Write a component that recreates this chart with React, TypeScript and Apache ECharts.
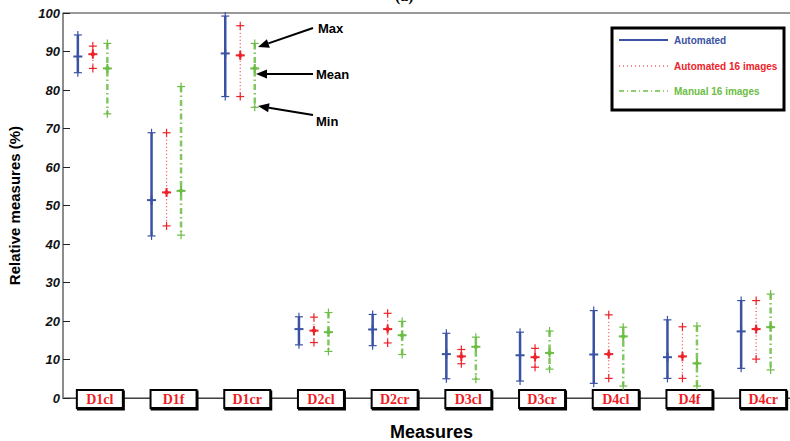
import React, { useEffect, useRef } from "react";
import * as echarts from "echarts";

const categories = ["D1cl", "D1f", "D1cr", "D2cl", "D2cr", "D3cl", "D3cr", "D4cl", "D4f", "D4cr"];
const yTicks = [0, 10, 20, 30, 40, 50, 60, 70, 80, 90, 100];

const autoMin = [84.5, 42.1, 78.3, 13.8, 13.6, 5.0, 4.4, 3.8, 5.1, 7.7];
const autoMean = [88.7, 51.4, 89.5, 17.9, 17.8, 11.4, 11.1, 11.3, 10.6, 17.3];
const autoMax = [94.3, 68.9, 99.2, 21.1, 21.7, 16.8, 17.1, 22.7, 20.3, 25.3];

const auto16Min = [85.6, 44.7, 78.3, 14.4, 14.3, 8.9, 8.0, 5.1, 5.1, 10.1];
const auto16Mean = [89.3, 53.4, 89.0, 17.5, 17.9, 10.8, 10.6, 11.4, 10.8, 17.9];
const auto16Max = [91.4, 68.9, 96.7, 21.0, 22.0, 12.6, 12.9, 21.6, 18.5, 25.3];

const manualMin = [73.8, 42.3, 75.5, 12.1, 11.3, 4.9, 7.5, 3.1, 3.1, 7.3];
const manualMean = [85.6, 53.8, 85.6, 17.1, 16.3, 13.3, 11.7, 16.0, 9.0, 18.4];
const manualMax = [92.1, 80.9, 92.1, 22.2, 19.9, 15.8, 17.4, 18.4, 18.7, 27.0];

const seriesNames = ["Automated", "Automated 16 images", "Manual 16 images"];
const colors = ["#3a52a4", "#ee2229", "#6cbd45"];

function rows(mins: number[], means: number[], maxs: number[]) {
  return categories.map((_, i) => [i, mins[i], means[i], maxs[i]]);
}

function makeRender(offset: number, color: string, lineWidth: number, dash: number[] | null, meanDot: boolean) {
  return (params: any, api: any) => {
    const i = api.value(0);
    const pMin = api.coord([i, api.value(1)]);
    const pMean = api.coord([i, api.value(2)]);
    const pMax = api.coord([i, api.value(3)]);
    const x = pMean[0] + offset;
    const plus = (y: number, s: number, w: number) => [
      { type: "line", shape: { x1: x - s, y1: y, x2: x + s, y2: y }, style: { stroke: color, lineWidth: w } },
      { type: "line", shape: { x1: x, y1: y - s, x2: x, y2: y + s }, style: { stroke: color, lineWidth: w } },
    ];
    const children: any[] = [
      {
        type: "line",
        shape: { x1: x, y1: pMax[1], x2: x, y2: pMin[1] },
        style: { stroke: color, lineWidth, lineDash: dash || undefined, opacity: dash ? 0.85 : 1 },
      },
      ...plus(pMax[1], 4, 1.2),
      ...plus(pMin[1], 4, 1.2),
      ...plus(pMean[1], 4.5, 2),
    ];
    if (meanDot) {
      children.push({ type: "circle", shape: { cx: x, cy: pMean[1], r: 2.2 }, style: { fill: color } });
    }
    return { type: "group", children };
  };
}

function arrow(x1: number, y1: number, x2: number, y2: number) {
  const dx = x2 - x1, dy = y2 - y1;
  const len = Math.sqrt(dx * dx + dy * dy);
  const ux = dx / len, uy = dy / len;
  const hl = 11, hw = 4.5;
  const bx = x2 - ux * hl, by = y2 - uy * hl;
  return [
    { type: "line", shape: { x1, y1, x2: bx, y2: by }, style: { stroke: "#000", lineWidth: 2 } },
    {
      type: "polygon",
      shape: { points: [[x2, y2], [bx - uy * hw, by + ux * hw], [bx + uy * hw, by - ux * hw]] },
      style: { fill: "#000" },
    },
  ];
}

export default function App() {
  const ref = useRef<HTMLDivElement>(null);
  useEffect(() => {
    if (!ref.current) return;
    const chart = echarts.init(ref.current, null, { renderer: "svg" });
    const legendRows = [
      { y: 40, dash: null as number[] | null, w: 2 },
      { y: 66, dash: [1, 3], w: 1.2 },
      { y: 91, dash: [5, 3, 1, 3], w: 1.6 },
    ];
    const graphic: any[] = [
      {
        type: "text",
        left: 395,
        top: -13,
        style: { text: "(a)", fontSize: 16, fontWeight: "bold", fontFamily: "Liberation Serif", fill: "#000" },
      },
      {
        type: "rect",
        shape: { x: 612, y: 28, width: 172, height: 82 },
        style: { fill: "#fff", stroke: "#000", lineWidth: 3 },
      },
      ...legendRows.flatMap((r, k) => [
        {
          type: "line",
          shape: { x1: 619, y1: r.y, x2: 668, y2: r.y },
          style: { stroke: colors[k], lineWidth: r.w, lineDash: r.dash || undefined },
        },
        {
          type: "text",
          x: 674,
          y: r.y,
          style: {
            text: seriesNames[k],
            fill: colors[k],
            fontSize: 10,
            fontWeight: "bold",
            fontFamily: "Liberation Sans",
            verticalAlign: "middle",
          },
        },
      ]),
      ...arrow(313, 28, 258, 47),
      ...arrow(313, 74, 256, 74),
      ...arrow(313, 115, 258, 106),
      ...[
        { t: "Max", x: 318, y: 28 },
        { t: "Mean", x: 316, y: 74 },
        { t: "Min", x: 316, y: 121 },
      ].map((a) => ({
        type: "text",
        x: a.x,
        y: a.y,
        style: {
          text: a.t,
          fill: "#000",
          fontSize: 13,
          fontWeight: "bold",
          fontFamily: "Liberation Sans",
          verticalAlign: "middle",
        },
      })),
    ];
    chart.setOption({
      animation: false,
      backgroundColor: "#fff",
      grid: {
        left: 63,
        top: 13,
        width: 737,
        height: 385,
        outerBoundsMode: "none",
        containLabel: false,
        show: true,
        borderColor: "#333",
        borderWidth: 1,
        backgroundColor: "transparent",
      },
      xAxis: {
        type: "category",
        data: categories,
        boundaryGap: true,
        name: "Measures",
        nameLocation: "middle",
        nameGap: 25,
        nameTextStyle: { fontSize: 18, fontWeight: "bold", fontFamily: "Liberation Sans", color: "#000" },
        axisLine: { show: true, lineStyle: { color: "#444", width: 1 } },
        axisTick: { show: false },
        axisLabel: {
          interval: 0,
          margin: 1,
          color: "#ee1c25",
          fontFamily: "Liberation Serif",
          fontWeight: "bold",
          fontSize: 14,
          width: 40,
          height: 14,
          lineHeight: 14,
          align: "center",
          verticalAlign: "middle",
          padding: [1, 2, 1, 2],
          borderColor: "#000",
          borderWidth: 2,
          backgroundColor: "#fff",
          shadowColor: "#000",
          shadowOffsetX: 1,
          shadowOffsetY: 1.5,
        },
        splitLine: { show: false },
      },
      yAxis: {
        type: "value",
        min: yTicks[0],
        max: yTicks[yTicks.length - 1],
        interval: 10,
        name: "Relative measures (%)",
        nameLocation: "middle",
        nameGap: 41,
        nameTextStyle: { fontSize: 15, fontWeight: "bold", fontFamily: "Liberation Sans", color: "#000" },
        axisLine: { show: true, lineStyle: { color: "#888", width: 1.5 } },
        axisTick: { show: true, inside: true, length: 7, lineStyle: { color: "#222" } },
        axisLabel: {
          margin: 3,
          color: "#111",
          fontSize: 13,
          fontWeight: "bold",
          fontStyle: "italic",
          fontFamily: "Liberation Sans",
        },
        splitLine: { show: false },
      },
      series: [
        {
          name: seriesNames[0],
          type: "custom",
          data: rows(autoMin, autoMean, autoMax),
          renderItem: makeRender(-22, colors[0], 2.5, null, false),
          encode: { x: 0, y: [1, 2, 3] },
        },
        {
          name: seriesNames[1],
          type: "custom",
          data: rows(auto16Min, auto16Mean, auto16Max),
          renderItem: makeRender(-7, colors[1], 1.2, [1, 2.5], true),
          encode: { x: 0, y: [1, 2, 3] },
        },
        {
          name: seriesNames[2],
          type: "custom",
          data: rows(manualMin, manualMean, manualMax),
          renderItem: makeRender(7.5, colors[2], 2.5, [6, 3, 1.5, 3], true),
          encode: { x: 0, y: [1, 2, 3] },
        },
      ],
      graphic,
    });
    return () => chart.dispose();
  }, []);
  return <div ref={ref} style={{ position: "fixed", left: 0, top: 0, width: 790, height: 441 }} />;
}
